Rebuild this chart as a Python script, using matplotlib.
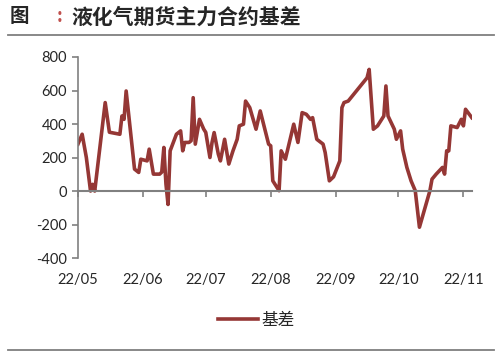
import matplotlib.pyplot as plt
from matplotlib.lines import Line2D
import pandas as pd

plt.rcParams['font.family'] = ['Lato', 'Noto Sans CJK SC', 'DejaVu Sans']
plt.rcParams['axes.unicode_minus'] = False

# 液化气期货主力合约基差
dates = [
    "2022-05-01", "2022-05-03", "2022-05-05", "2022-05-07", "2022-05-08", "2022-05-09",
    "2022-05-14", "2022-05-16", "2022-05-21", "2022-05-22", "2022-05-23", "2022-05-24",
    "2022-05-28", "2022-05-30", "2022-05-31", "2022-06-03", "2022-06-04", "2022-06-06",
    "2022-06-09", "2022-06-10", "2022-06-11", "2022-06-12", "2022-06-13", "2022-06-14",
    "2022-06-17", "2022-06-18", "2022-06-19", "2022-06-20", "2022-06-21", "2022-06-23",
    "2022-06-24", "2022-06-25", "2022-06-26", "2022-06-28", "2022-06-30", "2022-07-01",
    "2022-07-03", "2022-07-04", "2022-07-05", "2022-07-07", "2022-07-08", "2022-07-10",
    "2022-07-12", "2022-07-14", "2022-07-16", "2022-07-17", "2022-07-19", "2022-07-20",
    "2022-07-22", "2022-07-25", "2022-07-27", "2022-07-29", "2022-07-31", "2022-08-01",
    "2022-08-02", "2022-08-05", "2022-08-06", "2022-08-08", "2022-08-12", "2022-08-14",
    "2022-08-16", "2022-08-18", "2022-08-20", "2022-08-21", "2022-08-23", "2022-08-26",
    "2022-08-27", "2022-08-29", "2022-08-31", "2022-09-03", "2022-09-04", "2022-09-05",
    "2022-09-07", "2022-09-16", "2022-09-17", "2022-09-19", "2022-09-21", "2022-09-24",
    "2022-09-25", "2022-09-26", "2022-09-29", "2022-09-30", "2022-10-02", "2022-10-03",
    "2022-10-05", "2022-10-07", "2022-10-09", "2022-10-11", "2022-10-16", "2022-10-17",
    "2022-10-19", "2022-10-22", "2022-10-23", "2022-10-24", "2022-10-25", "2022-10-26",
    "2022-10-29", "2022-10-31", "2022-11-01", "2022-11-02", "2022-11-05",
]
basis = [
    280, 339, 200, 0, 40, 0,
    528, 351, 339, 448, 428, 597,
    131, 111, 190, 180, 250, 101,
    101, 113, 260, 42, -80, 240,
    339, 349, 359, 240, 290, 290,
    300, 557, 280, 428, 370, 350,
    200, 290, 349, 220, 180, 309,
    161, 240, 309, 389, 399, 537,
    498, 369, 478, 379, 280, 270,
    61, 2, 240, 190, 399, 290,
    468, 458, 428, 438, 309, 280,
    230, 61, 85, 180, 498, 528,
    537, 676, 726, 369, 389, 448,
    627, 448, 369, 309, 359, 250,
    141, 61, 2, -216, 2, 71,
    101, 141, 101, 240, 240, 389,
    379, 428, 389, 488, 438,
]
month_ticks = ["2022-05-01", "2022-06-01", "2022-07-01", "2022-08-01",
               "2022-09-01", "2022-10-01", "2022-11-01"]
month_labels = ["22/05", "22/06", "22/07", "22/08", "22/09", "22/10", "22/11"]

x = pd.to_datetime(dates)
line_color = '#953735'
axis_color = '#808080'
text_color = '#262626'

fig = plt.figure(figsize=(5.03, 3.54), dpi=100)
ax = fig.add_axes([0.155, 0.271, 0.783, 0.568])

ax.plot(x, basis, color=line_color, lw=2.6, label='基差')

ax.set_ylim(-400, 800)
ax.set_yticks(range(-400, 801, 200))
ax.set_xlim(pd.Timestamp("2022-05-01"), pd.Timestamp("2022-11-05"))
ax.set_xticks(pd.to_datetime(month_ticks))
ax.set_xticklabels(month_labels)

for s in ['top', 'right']:
    ax.spines[s].set_visible(False)
ax.spines['left'].set_color(axis_color)
ax.spines['left'].set_linewidth(1.2)
ax.spines['bottom'].set_position(('data', 0))
ax.spines['bottom'].set_color(axis_color)
ax.spines['bottom'].set_linewidth(1.5)

ax.tick_params(axis='y', direction='out', length=4, width=1.2, color=axis_color,
               labelsize=10.5, labelcolor=text_color, pad=4)
ax.tick_params(axis='x', direction='out', length=4, width=1.2, color=axis_color,
               labelsize=10.5, labelcolor=text_color, pad=55)

# 标题
fig.text(0.02, 0.952, '图', fontsize=14, fontweight='bold', color=text_color,
         family=['Noto Sans CJK SC'], va='center')
fig.text(0.113, 0.952, ':', fontsize=13, fontweight='bold', color='#c0504d',
         family=['Noto Sans CJK SC'], va='center')
fig.text(0.141, 0.952, '液化气期货主力合约基差', fontsize=15, fontweight='bold',
         color=text_color, family=['Noto Sans CJK SC'], va='center')
fig.add_artist(Line2D([0.016, 0.982], [0.901, 0.901], color='#7f7f7f', lw=1.3))
fig.add_artist(Line2D([0.016, 0.982], [0.011, 0.011], color='#7f7f7f', lw=1.3))

leg = fig.legend(loc='center', bbox_to_anchor=(0.51, 0.096), frameon=False,
                 handlelength=2.4, handletextpad=0.2,
                 prop={'family': ['Noto Sans CJK SC'], 'size': 12})
for t in leg.get_texts():
    t.set_color(text_color)

fig.savefig('out.png', dpi=100)
